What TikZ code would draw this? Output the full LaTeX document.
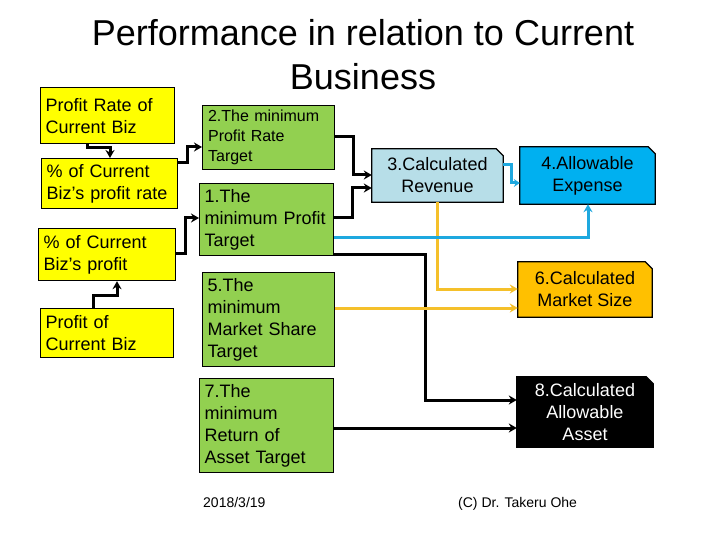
\documentclass[tikz,border=0pt]{standalone}
\usepackage{fontspec}
\setmainfont{Liberation Sans}
\usetikzlibrary{arrows.meta,backgrounds}
\definecolor{ylw}{HTML}{FFFF00}
\definecolor{grn}{HTML}{92D050}
\definecolor{lblue}{HTML}{B7DEE8}
\definecolor{blu}{HTML}{00B0F0}
\definecolor{org}{HTML}{FFC000}
\definecolor{lineblue}{HTML}{1EA8DF}
\definecolor{lineyel}{HTML}{F5C02A}
\begin{document}
\begin{tikzpicture}[x=1pt,y=-1pt,
  every node/.style={inner sep=0pt},
  lbox/.style={draw=black,line width=1.2pt,align=left,inner xsep=5pt,inner ysep=0pt,anchor=north west,font=\fontsize{18}{22}\selectfont},
  ybox/.style={lbox,fill=ylw},
  gbox/.style={lbox,fill=grn},
  rbox/.style={align=center,font=\fontsize{18}{22}\selectfont},
  snip/.style={draw=black,line width=1.2pt},
  blk/.style={draw=black,line width=3pt,-{Stealth[length=8pt,width=9pt]}},
  bln/.style={draw=lineblue,line width=3pt,-{Stealth[length=8pt,width=9pt]}},
  bls/.style={draw=lineblue,line width=3pt,-{Stealth[length=6pt,width=8pt]}},
  yln/.style={draw=lineyel,line width=3pt,-{Stealth[length=8pt,width=9pt]}}
]
\useasboundingbox (0,0) rectangle (720,540);

% title
\node[anchor=north,align=center,font=\fontsize{36}{44}\selectfont] (title) at (363,19.5)
  {Performance in relation to Current\\Business};

% yellow boxes
\node[ybox,minimum width=134pt,minimum height=56pt,text width=124pt] (y1) at (40,87) {Profit Rate of\\Current Biz};
\node[ybox,minimum width=136pt,minimum height=50pt,text width=126pt] (y2) at (41,158) {\% of Current\\Biz’s profit rate};
\node[ybox,minimum width=137pt,minimum height=52pt,text width=127pt,inner xsep=5pt] (y3) at (38,228) {\% of Current\\Biz’s profit};
\node[ybox,minimum width=133pt,minimum height=49pt,text width=123pt] (y4) at (40,308) {Profit of\\Current Biz};

% green boxes
\node[gbox,minimum width=132pt,minimum height=64pt,text width=121pt,inner xsep=5.5pt,font=\fontsize{16}{20}\selectfont] (g2) at (202,105) {2.The minimum\\Profit Rate\\Target};
\node[gbox,minimum width=134pt,minimum height=72pt,text width=124pt] (g1) at (199,183) {1.The\\minimum Profit\\Target};
\node[gbox,minimum width=132pt,minimum height=94pt,text width=122pt] (g5) at (202,272) {5.The\\minimum\\Market Share\\Target};
\node[gbox,minimum width=134pt,minimum height=94pt,text width=124pt] (g7) at (199,378) {7.The\\minimum\\Return of\\Asset Target};

% right boxes
\node[rbox,minimum width=131pt,minimum height=53pt] (b3) at (437.5,175.5) {3.Calculated\\Revenue};
\node[rbox,minimum width=135pt,minimum height=57pt] (b4) at (587.5,175.5) {4.Allowable\\Expense};
\node[rbox,minimum width=134pt,minimum height=55pt] (b6) at (585,289.5) {6.Calculated\\Market Size};
\node[rbox,minimum width=136pt,minimum height=70pt,text=white] (b8) at (585,412) {8.Calculated\\Allowable\\Asset};

\begin{scope}[on background layer]
\foreach \n/\c in {b3/lblue,b4/blu,b6/org,b8/black}{
  \draw[snip,fill=\c] (\n.south west) -- (\n.north west) -- ([xshift=-7pt]\n.north east)
    -- ([yshift=-7pt]\n.north east) -- (\n.south east) -- cycle;
}
\end{scope}

% footer
\node[anchor=base west,font=\fontsize{14}{16}\selectfont] (date) at (203,507) {2018/3/19};
\node[anchor=base west,font=\fontsize{14}{16}\selectfont] (copy) at (458,507) {(C) Dr. Takeru Ohe};

% connectors
\draw[blk] (87,0 |- y1.south) -- (87,148) -| (110,0 |- y2.north);
\draw[blk] (y2.east |- 0,163) -- (187,163) |- (g2.west |- 0,147);
\draw[blk] (y3.east |- 0,253) -- (185,253) |- (g1.west |- 0,218);
\draw[blk] (93,0 |- y4.north) -- (93,295) -| (117,0 |- y3.south);
\draw[blk] (g2.east |- 0,137) -- (353,137) |- (b3.west |- 0,175);
\draw[blk] (g1.east |- 0,218) -- (352,218) |- (b3.west |- 0,188);
\draw[blk] (g1.east |- 0,254) -- (425,254) |- (b8.west |- 0,400);
\draw[yln] (437,0 |- b3.south) |- (b6.west |- 0,289);
\draw[yln] (g5.east |- 0,308) -- (b6.west |- 0,308);
\draw[bln] (g1.east |- 0,237) -| (588,0 |- b4.south);
\draw[bls] (b3.east |- 0,165) -- (511,165) |- (b4.west |- 0,183);
\draw[blk] (g7.east |- 0,428) -- (b8.west |- 0,428);
\end{tikzpicture}
\end{document}
